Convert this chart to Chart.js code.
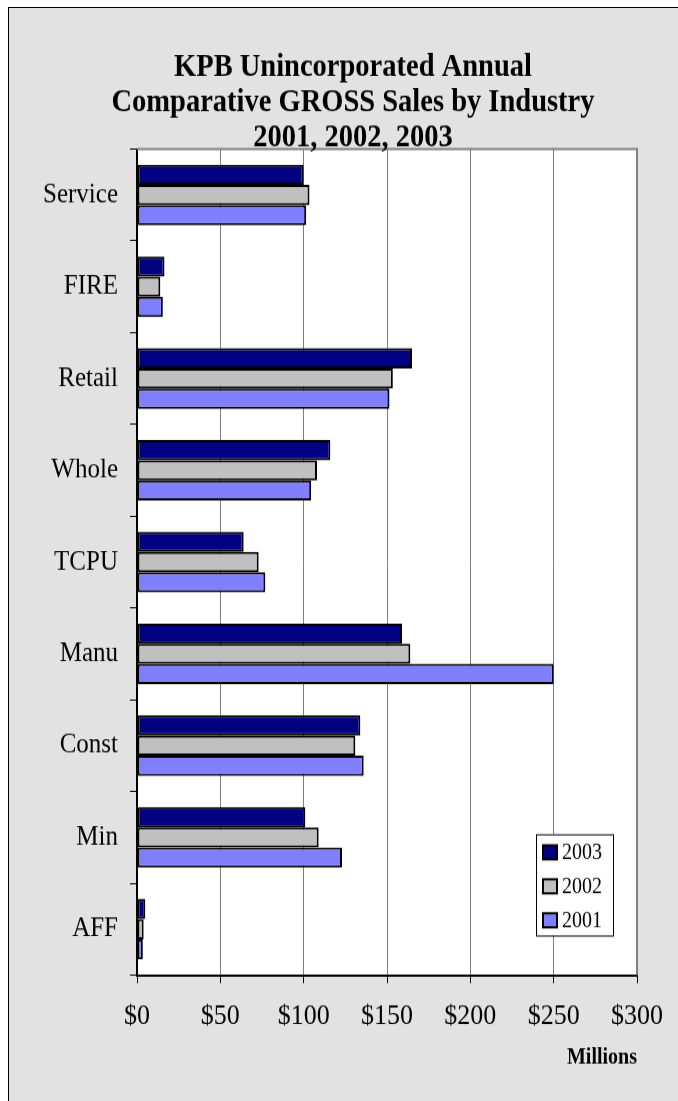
<!DOCTYPE html>
<html>
<head>
<meta charset="utf-8">
<script src="https://cdn.jsdelivr.net/npm/chart.js@4/dist/chart.umd.min.js"></script>
<style>
  html, body { margin: 0; padding: 0; background: #fff; }
  .frame { position: absolute; left: 8px; top: 7px; width: 760px; height: 1200px;
           border: 1px solid #000; background: #e2e2e2; }
  #chart { position: absolute; left: 0; top: 0; }
</style>
</head>
<body>
<div class="frame"></div>
<!-- the original is slightly stretched vertically, so draw at 1001px and show at 1101px -->
<canvas id="chart" width="678" height="1001" style="width:678px;height:1101px"></canvas>
<script>
const titleLines = ["KPB Unincorporated Annual", "Comparative GROSS Sales by Industry", "2001, 2002, 2003"]
const industries = ["Service", "FIRE", "Retail", "Whole", "TCPU", "Manu", "Const", "Min", "AFF"]
const years = ["2003", "2002", "2001"]
const sales2003 = [100, 16.5, 165, 116, 64, 159, 134, 101, 5]
const sales2002 = [103.5, 14, 153.5, 108, 73, 164, 131, 109, 4]
const sales2001 = [101.5, 15.5, 151.5, 104.5, 77, 250, 136, 123, 3.5]
const xTicks = [0, 50, 100, 150, 200, 250, 300]

const serif = "'Liberation Serif', 'Times New Roman', serif"
Chart.defaults.font.family = serif
Chart.defaults.color = "#000"

// white plot area plus grey top/right frame
const plotFrame = {
    id: "plotFrame",
    beforeDraw(chart) {
        const {ctx, chartArea: a} = chart
        ctx.save()
        ctx.fillStyle = "#fff"
        ctx.fillRect(a.left, a.top, a.right - a.left, a.bottom - a.top)
        ctx.restore()
    },
    afterDraw(chart) {
        const {ctx, chartArea: a} = chart
        ctx.save()
        ctx.strokeStyle = "#808080"
        ctx.lineWidth = 2
        ctx.beginPath()
        ctx.moveTo(a.left, a.top)
        ctx.lineTo(a.right, a.top)
        ctx.lineTo(a.right, a.bottom)
        ctx.stroke()
        ctx.restore()
    }
}

const titleBlock = {
    id: "titleBlock",
    afterDraw(chart) {
        const ctx = chart.ctx
        ctx.save()
        ctx.font = "bold 28.5px " + serif
        ctx.fillStyle = "#000"
        ctx.textAlign = "center"
        ctx.textBaseline = "alphabetic"
        titleLines.forEach((t, i) => ctx.fillText(t, 353, 69 + i * 32.1))
        ctx.restore()
    }
}

// boxed legend inside the plot, lower right
const boxLegend = {
    id: "boxLegend",
    afterDatasetsDraw(chart) {
        const {ctx, chartArea: a} = chart
        const x = a.right - 101, y = a.bottom - 128, w = 77, h = 92
        ctx.save()
        ctx.fillStyle = "#fff"
        ctx.fillRect(x, y, w, h)
        ctx.strokeStyle = "#000"
        ctx.lineWidth = 1
        ctx.strokeRect(x + 0.5, y + 0.5, w, h)
        ctx.font = "20px " + serif
        ctx.textBaseline = "middle"
        chart.data.datasets.forEach((ds, i) => {
            const cy = y + 16.4 + i * 30.9
            ctx.fillStyle = ds.backgroundColor
            ctx.fillRect(x + 7, cy - 6.4, 14, 12.8)
            ctx.lineWidth = 2
            ctx.strokeRect(x + 7, cy - 6.4, 14, 12.8)
            ctx.fillStyle = "#000"
            ctx.fillText(ds.label, x + 26, cy + 1)
        })
        ctx.restore()
    }
}

const colors = ["#000080", "#c0c0c0", "#8080ff"]
const series = [sales2003, sales2002, sales2001]

new Chart(document.getElementById("chart"), {
    type: "bar",
    data: {
        labels: industries,
        datasets: years.map((y, i) => ({
            label: y,
            data: series[i],
            backgroundColor: colors[i],
            borderColor: "#000",
            borderWidth: 2,
            borderSkipped: false,
            categoryPercentage: 0.66,
            barPercentage: 1
        }))
    },
    options: {
        indexAxis: "y",
        responsive: false,
        animation: false,
        layout: { padding: { top: 135.5, right: 41, left: 0, bottom: 0 } },
        plugins: {
            legend: { display: false },
            title: { display: false },
            tooltip: { enabled: false }
        },
        scales: {
            x: {
                min: 0,
                max: 300,
                afterBuildTicks(scale) {
                    scale.ticks = xTicks.map(v => ({value: v}))
                },
                afterFit(scale) { scale.height = 114.5 },
                ticks: {
                    font: { size: 26 },
                    padding: 15,
                    callback: v => "$" + v
                },
                grid: {
                    color: "#808080",
                    lineWidth: 1,
                    tickColor: "#000",
                    tickLength: 7.3
                },
                border: { color: "#000", width: 2 },
                title: {
                    display: true,
                    text: "Millions",
                    align: "end",
                    font: { size: 20, weight: "bold" },
                    padding: { top: 4, bottom: 27 }
                }
            },
            y: {
                afterFit(scale) { scale.width = 137 },
                ticks: {
                    font: { size: 25 },
                    padding: 12
                },
                grid: {
                    drawOnChartArea: false,
                    offset: true,
                    tickColor: "#000",
                    tickLength: 7
                },
                border: { color: "#000", width: 2 }
            }
        }
    },
    plugins: [plotFrame, boxLegend, titleBlock]
})
</script>
</body>
</html>
